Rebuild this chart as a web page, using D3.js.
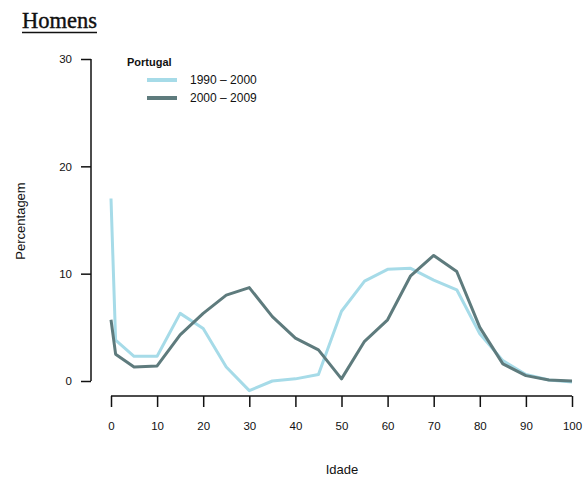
<!DOCTYPE html>
<html>
<head>
<meta charset="utf-8">
<script src="https://cdn.jsdelivr.net/npm/d3@7"></script>
<style>
  body { margin: 0; background: #fff; }
  text { font-family: "Liberation Sans", Arial, sans-serif; }
</style>
</head>
<body>
<div id="vis"></div>
<script>
var ages = [0, 1, 5, 10, 15, 20, 25, 30, 35, 40, 45, 50, 55, 60, 65, 70, 75, 80, 85, 90, 95, 100];
var p1990 = [17, 3.8, 2.3, 2.3, 6.3, 4.9, 1.3, -0.9, 0, 0.2, 0.6, 6.5, 9.3, 10.4, 10.5, 9.4, 8.5, 4.4, 1.9, 0.6, 0.1, -0.1];
var p2000 = [5.7, 2.5, 1.3, 1.4, 4.3, 6.3, 8.0, 8.7, 6.0, 4.0, 2.9, 0.2, 3.7, 5.7, 9.8, 11.7, 10.2, 5.0, 1.6, 0.5, 0.1, 0];
var xTicks = [0, 10, 20, 30, 40, 50, 60, 70, 80, 90, 100];
var yTicks = [0, 10, 20, 30];
var seriesNames = ["1990 \u2013 2000", "2000 \u2013 2009"];
var colors = ["#a6dbe8", "#5e7b7d"];

var w = 586, h = 479;

var x = d3.scaleLinear().domain([0, 100]).range([111, 572]);
var y = d3.scaleLinear().domain([0, 30]).range([381, 59]);

var svg = d3.select("#vis").append("svg")
  .attr("width", w)
  .attr("height", h);

// title
svg.append("text")
  .attr("x", 22).attr("y", 28)
  .style("font-family", "'Liberation Serif', 'DejaVu Serif', serif")
  .style("font-size", "22.5px")
  .attr("fill", "#111")
  .attr("stroke", "#111").attr("stroke-width", 0.4)
  .text("Homens");
svg.append("line")
  .attr("x1", 22).attr("x2", 97)
  .attr("y1", 32.5).attr("y2", 32.5)
  .attr("stroke", "#111").attr("stroke-width", 1.5);

// y axis
var yAxis = d3.axisLeft(y).tickValues(yTicks).tickSize(10).tickPadding(9);
var gy = svg.append("g")
  .attr("transform", "translate(91,0)")
  .call(yAxis);

// x axis
var xAxis = d3.axisBottom(x).tickValues(xTicks).tickSize(11).tickPadding(15);
var gx = svg.append("g")
  .attr("transform", "translate(0,396)")
  .call(xAxis);

[gx, gy].forEach(function(g) {
  g.select(".domain").attr("stroke", "#111").attr("stroke-width", 1.5)
    .attr("d", g === gx ? "M" + x(0) + ",0H" + x(100) : "M0," + y(0) + "V" + y(30));
  g.selectAll(".tick line").attr("stroke", "#111").attr("stroke-width", 1.5);
  g.selectAll(".tick text").style("font-size", "11.5px").attr("fill", "#111");
});

// axis titles
svg.append("text")
  .attr("x", 342).attr("y", 474)
  .attr("text-anchor", "middle")
  .style("font-size", "13px").attr("fill", "#111")
  .text("Idade");
svg.append("text")
  .attr("transform", "translate(25,221) rotate(-90)")
  .attr("text-anchor", "middle")
  .style("font-size", "13px").attr("fill", "#111")
  .text("Percentagem");

// lines
var line = d3.line()
  .x(function(d) { return x(d[0]); })
  .y(function(d) { return y(d[1]); });

[p1990, p2000].forEach(function(vals, i) {
  svg.append("path")
    .datum(ages.map(function(a, j) { return [a, vals[j]]; }))
    .attr("d", line)
    .attr("fill", "none")
    .attr("stroke", colors[i])
    .attr("stroke-width", 3)
    .attr("stroke-linejoin", "round");
});

// legend
svg.append("text")
  .attr("x", 127).attr("y", 66)
  .style("font-size", "11px").style("font-weight", "bold").attr("fill", "#111")
  .text("Portugal");
seriesNames.forEach(function(name, i) {
  var ly = 80 + i * 18;
  svg.append("line")
    .attr("x1", 147).attr("x2", 177)
    .attr("y1", ly).attr("y2", ly)
    .attr("stroke", colors[i]).attr("stroke-width", 4);
  svg.append("text")
    .attr("x", 190).attr("y", ly + 4)
    .style("font-size", "12px").attr("fill", "#111")
    .text(name);
});
</script>
</body>
</html>
